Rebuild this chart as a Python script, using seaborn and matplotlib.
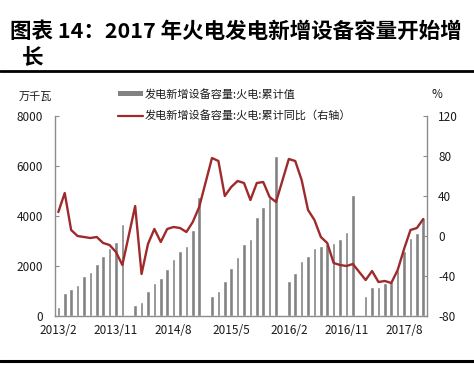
import numpy as np
import pandas as pd
import matplotlib
matplotlib.use("Agg")
import matplotlib.pyplot as plt
from matplotlib.lines import Line2D
from matplotlib.patches import Rectangle
import seaborn as sns

nan = np.nan
# months: 2013/2 ... 2017/11 (January has no data)
years = [2013, 2014, 2015, 2016, 2017]
months = [f"{y}/{m}" for y in years for m in range(1, 13)
          if not (y == 2013 and m == 1) and not (y == 2017 and m > 11)]

cum_2013 = [350, 930, 1100, 1230, 1600, 1760, 2100, 2400, 2710, 2960, 3670]
cum_2014 = [nan, 450, 560, 1000, 1310, 1520, 1880, 2300, 2590, 2810, 3430, 4780]
cum_2015 = [nan, 790, 1000, 1400, 1930, 2350, 2880, 3080, 3960, 4350, 4750, 6400]
cum_2016 = [nan, 1400, 1730, 2200, 2410, 2720, 2820, 2900, 2920, 3080, 3350, 4830]
cum_2017 = [nan, 800, 1150, 1170, 1340, 1350, 1860, 2610, 3110, 3330, 3910]

yoy_2013 = [24, 43, 6, 0, -1, -2, -1, -7, -9, -16, -29]
yoy_2014 = [nan, 30, -38, -8, 7, -6, 7, 9, 8, 4, 14, 29]
yoy_2015 = [nan, 78, 75, 40, 49, 55, 53, 36, 53, 54, 39, 34]
yoy_2016 = [nan, 77, 75, 56, 26, 16, -1, -7, -27, -29, -30, -28]
yoy_2017 = [nan, -44, -35, -46, -45, -47, -34, -13, 6, 8, 17]

cum = cum_2013 + cum_2014 + cum_2015 + cum_2016 + cum_2017
yoy = yoy_2013 + yoy_2014 + yoy_2015 + yoy_2016 + yoy_2017

tick_labels = ["2013/2", "2013/11", "2014/8", "2015/5", "2016/2", "2016/11", "2017/8"]
left_ticks = [0, 2000, 4000, 6000, 8000]
right_ticks = [-80, -40, 0, 40, 80, 120]

bar_label = "发电新增设备容量:火电:累计值"
line_label = "发电新增设备容量:火电:累计同比（右轴）"

sns.set_style("white")
plt.rcParams['font.family'] = ['Noto Sans CJK SC', 'DejaVu Sans']
plt.rcParams['axes.unicode_minus'] = False

W, H = 474, 365
fig = plt.figure(figsize=(W / 100, H / 100), dpi=100)

def fx(x):
    return x / W

def fy(y):
    return 1 - y / H

ax = fig.add_axes([fx(55), fy(316), fx(427) - fx(55), fy(116) - fy(316)])

df = pd.DataFrame({"month": months, "cum": cum, "yoy": yoy})
df["pos"] = np.arange(len(df))

bar_color = "#828282"
line_color = "#9E2A2B"
text_color = "#1a1a1a"
axis_color = "#8c8c8c"

sns.barplot(data=df, x="month", y="cum", order=months, color=bar_color,
            saturation=1, width=0.56, ax=ax)
ax.set_ylim(0, 8000)
ax.set_yticks(left_ticks)
ax.set_xlim(-0.52, len(months) - 1 + 0.58)
tick_pos = [months.index(t) for t in tick_labels]
ax.set_xticks(tick_pos)
ax.set_xticklabels(tick_labels)
ax.set_xlabel("")
ax.set_ylabel("")

ax2 = ax.twinx()
line_df = df.dropna(subset=["yoy"])
sns.lineplot(data=line_df, x="pos", y="yoy", color=line_color, linewidth=1.7, ax=ax2)
ax2.set_ylim(-80, 120)
ax2.set_yticks(right_ticks)
ax2.set_xlim(ax.get_xlim())
ax2.set_xlabel("")
ax2.set_ylabel("")

for a in (ax, ax2):
    for s in a.spines.values():
        s.set_visible(False)
ax.spines['left'].set_visible(True)
ax.spines['bottom'].set_visible(True)
ax2.spines['right'].set_visible(True)
for s in (ax.spines['left'], ax.spines['bottom'], ax2.spines['right']):
    s.set_color(axis_color)
    s.set_linewidth(1.0)

ax.tick_params(axis='y', direction='in', length=3, color=axis_color, pad=8.5,
               labelsize=8.5, labelcolor=text_color, left=True)
ax.tick_params(axis='x', direction='in', length=3, color=axis_color, pad=6,
               labelsize=8.5, labelcolor=text_color, bottom=True)
ax2.tick_params(axis='y', direction='in', length=3, color=axis_color, pad=8,
                labelsize=8.5, labelcolor=text_color, right=True)

# legend (drawn in figure coordinates)
fig.add_artist(Rectangle((fx(118), fy(96)), fx(143) - fx(118), fy(91) - fy(96),
                         transform=fig.transFigure, color=bar_color, lw=0))
fig.add_artist(Line2D([fx(118), fx(143)], [fy(115.5), fy(115.5)],
                      transform=fig.transFigure, color=line_color, lw=1.6))
fig.text(fx(145), fy(94), bar_label, fontsize=8, color=text_color, va='center', ha='left')
fig.text(fx(145), fy(115.5), line_label, fontsize=8, color=text_color, va='center', ha='left')

# unit labels
fig.text(fx(35), fy(97), "万千瓦", fontsize=8, color=text_color, va='center', ha='center')
fig.text(fx(437), fy(94.5), "%", fontsize=8.5, color=text_color, va='center', ha='center')

# title
fig.text(fx(10), fy(31.5), "图表 14：2017 年火电发电新增设备容量开始增", fontsize=15.5,
         fontweight='heavy', color='black', va='center', ha='left')
fig.text(fx(22), fy(57), "长", fontsize=15.5, fontweight='heavy', color='black',
         va='center', ha='left')

fig.add_artist(Line2D([0, 1], [fy(70.7), fy(70.7)], transform=fig.transFigure,
                      color='black', lw=2))
fig.add_artist(Line2D([0, 1], [fy(361), fy(361)], transform=fig.transFigure,
                      color='black', lw=2.2))

fig.savefig("out.png", dpi=100)
